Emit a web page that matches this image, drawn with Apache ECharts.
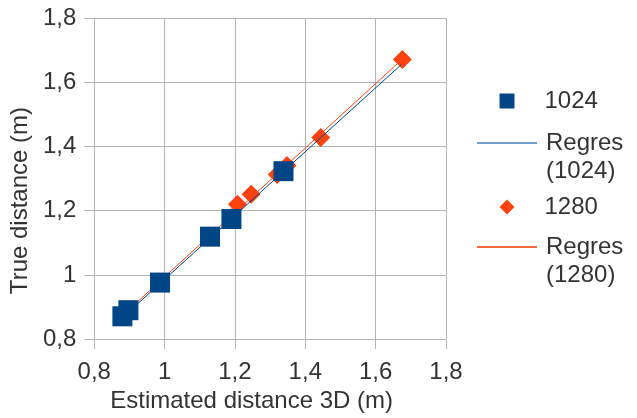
<!DOCTYPE html>
<html>
<head>
<meta charset="utf-8">
<script src="https://cdn.jsdelivr.net/npm/echarts@6/dist/echarts.min.js"></script>
<style>
html,body{margin:0;padding:0;background:#fff;}
#chart{width:637px;height:418px;}
</style>
</head>
<body>
<div id="chart"></div>
<script>
// Data
const x1024 = [0.880, 0.897, 0.987, 1.129, 1.190, 1.338];
const y1024 = [0.871, 0.890, 0.976, 1.119, 1.174, 1.323];
const x1280 = [0.880, 0.985, 1.130, 1.190, 1.207, 1.246, 1.320, 1.348, 1.444, 1.676];
const y1280 = [0.875, 0.978, 1.120, 1.178, 1.220, 1.251, 1.313, 1.341, 1.428, 1.671];
const regres1024X = [0.875, 1.673];
const regres1024Y = [0.862, 1.655];
const regres1280X = [0.875, 1.672];
const regres1280Y = [0.868, 1.668];
const axisTicks = [0.8, 1.0, 1.2, 1.4, 1.6, 1.8];

const zip = (a, b) => a.map((v, i) => [v, b[i]]);
const FONT = 'Liberation Sans, Arial, sans-serif';
const FS = 24;
const TXT = '#333333';
const AX = '#b3b3b3';
const fmt = v => String(+v.toFixed(2)).replace('.', ',');

const chart = echarts.init(document.getElementById('chart'), null, {renderer: 'canvas'});

const richT = {
  t: {fontFamily: FONT, fontSize: FS, color: TXT, lineHeight: 28},
  e: {fontFamily: FONT, fontSize: FS, color: TXT, lineHeight: 28}
};

function legendItem(name, left, top, iconW, iconH, padLeft, icon, iconColor) {
  const d = {name: name};
  if (icon) { d.icon = icon; d.itemStyle = {color: iconColor, opacity: 1}; }
  return {
    data: [d], orient: 'vertical', left: left, top: top, padding: 0,
    itemWidth: iconW, itemHeight: iconH, selectedMode: false,
    formatter: n => n.indexOf(' ') > 0
      ? '{e| }\n{t|' + n.split(' ')[0] + '}\n{t|' + n.split(' ')[1] + '}'
      : '{t|' + n + '}',
    textStyle: {fontFamily: FONT, fontSize: FS, color: TXT, padding: [0, 0, 0, padLeft], rich: richT}
  };
}

chart.setOption({
  animation: false,
  backgroundColor: '#ffffff',
  grid: {left: 92.3, right: 637 - 446, top: 18, bottom: 418 - 340.7, containLabel: false},
  xAxis: {
    type: 'value', min: axisTicks[0], max: axisTicks[axisTicks.length - 1], interval: 0.2,
    name: 'Estimated distance 3D (m)', nameLocation: 'middle', nameGap: 48,
    nameTextStyle: {fontFamily: FONT, fontSize: FS, color: TXT, padding: [0, 37, 0, 0]},
    axisLine: {show: true, lineStyle: {color: AX, width: 1}},
    axisTick: {show: true, length: 10, lineStyle: {color: AX}},
    axisLabel: {fontFamily: FONT, fontSize: FS, color: TXT, margin: 21, formatter: fmt},
    splitLine: {show: true, lineStyle: {color: AX, width: 1}}
  },
  yAxis: {
    type: 'value', min: axisTicks[0], max: axisTicks[axisTicks.length - 1], interval: 0.2,
    name: 'True distance (m)', nameLocation: 'middle', nameGap: 47,
    nameTextStyle: {fontFamily: FONT, fontSize: FS, color: TXT, padding: [0, 44, 0, 0]},
    axisLine: {show: true, lineStyle: {color: AX, width: 1}},
    axisTick: {show: true, length: 10, lineStyle: {color: AX}},
    axisLabel: {fontFamily: FONT, fontSize: FS, color: TXT, margin: 18, formatter: fmt},
    splitLine: {show: true, lineStyle: {color: AX, width: 1}}
  },
  legend: [
    legendItem('1024', 499.5, 89, 15, 15, 25, null, null),
    legendItem('Regres (1024)', 477, 103, 60, 2, 4, 'rect', '#729fcf'),
    legendItem('1280', 499.5, 195, 15, 15, 25, null, null),
    legendItem('Regres (1280)', 477, 207, 60, 2, 4, 'rect', '#ff6a3d')
  ],
  series: [
    {
      name: '1280', type: 'scatter', symbol: 'diamond', symbolSize: 19, z: 2,
      itemStyle: {color: '#ff420e', opacity: 1}, data: zip(x1280, y1280)
    },
    {
      name: 'Regres (1280)', type: 'line', symbol: 'none', z: 3,
      lineStyle: {color: '#ff420e', width: 1}, data: zip(regres1280X, regres1280Y)
    },
    {
      name: 'Regres (1024)', type: 'line', symbol: 'none', z: 4,
      lineStyle: {color: '#004586', width: 1}, data: zip(regres1024X, regres1024Y)
    },
    {
      name: '1024', type: 'scatter', symbol: 'rect', symbolSize: 20, z: 5,
      itemStyle: {color: '#004586', opacity: 1}, data: zip(x1024, y1024)
    }
  ]
});
</script>
</body>
</html>
